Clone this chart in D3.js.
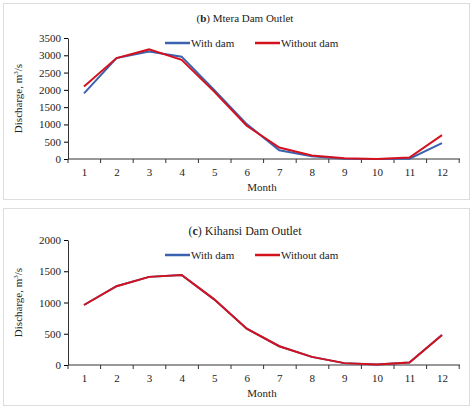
<!DOCTYPE html>
<html><head><meta charset="utf-8">
<script src="https://cdn.jsdelivr.net/npm/d3@7"></script>
<style>body{margin:0;background:#fff}text{font-family:"Liberation Serif",serif;fill:#222}</style>
</head><body><svg width="474" height="411"></svg>
<script>
var months = [1,2,3,4,5,6,7,8,9,10,11,12]
var mteraWith = [1900,2920,3110,2960,2000,1010,250,80,10,0,10,460]
var mteraWithout = [2100,2920,3170,2870,1950,960,330,100,20,0,40,690]
var kihansiWith = [960,1260,1410,1440,1050,580,300,130,30,10,40,480]
var kihansiWithout = [960,1260,1410,1440,1050,580,300,130,30,10,40,480]

var svg = d3.select("svg")

// un pannello per grafico
function drawPanel(top, h, title, bold, yMax, yStep, withData, withoutData) {
    svg.append("rect").attr("x",3.5).attr("y",top+3.5).attr("width",466).attr("height",h)
        .attr("fill","none").attr("stroke","#ddd")
    var y0 = top + (bold ? 159 : 160), y1 = top + (bold ? 38 : 35)
    var x = d3.scalePoint().domain(months).range([84,442]).padding(0)
    var y = d3.scaleLinear().domain([0,yMax]).range([y0,y1])
    var g = svg.append("g")
    // asse y
    var ya = g.append("g").attr("transform","translate(68,0)")
        .call(d3.axisLeft(y).tickValues(d3.range(0,yMax+1,yStep)).tickFormat(d3.format("d")).tickSize(4).tickSizeOuter(0))
    ya.select(".domain").attr("stroke","#333")
    ya.selectAll("text").style("font-size","11px")
    // asse x
    var xa = g.append("g").attr("transform","translate(0,"+y0+")")
        .call(d3.axisBottom(x).tickSize(0))
    xa.select(".domain").attr("d","M68,0H460").attr("stroke","#333")
    xa.selectAll("text").attr("dy","1.3em").style("font-size","11px")
    var bounds = d3.range(13).map(function(i){ return 68 + i*32.6 })
    xa.selectAll(".tb").data(bounds).enter().append("line").attr("class","tb")
        .attr("x1",function(d){return d}).attr("x2",function(d){return d})
        .attr("y1",0).attr("y2",4).attr("stroke","#333")
    g.append("text").attr("x",262).attr("y",y0+32).attr("text-anchor","middle")
        .style("font-size","11px").text("Month")
    g.append("text").attr("transform","translate(22,"+((y0+y1)/2)+") rotate(-90)")
        .attr("text-anchor","middle").style("font-size","11px")
        .html("Discharge, m<tspan dy='-4' font-size='7'>3</tspan><tspan dy='4'>/s</tspan>")
    var t = g.append("text").attr("x",245).attr("y",top+ (bold?22:30)).attr("text-anchor","middle")
        .style("font-size", bold ? "11px" : "12px")
    t.append("tspan").text("(")
    t.append("tspan").attr("font-weight","bold").text(title[0])
    t.append("tspan").text(") "+title[1])
    // linee
    var line = d3.line().x(function(d,i){return x(months[i])}).y(function(d){return y(d)})
    g.append("path").datum(withData).attr("d",line).attr("fill","none").attr("stroke","#3a62b0").attr("stroke-width",2)
    g.append("path").datum(withoutData).attr("d",line).attr("fill","none").attr("stroke","#d4121e").attr("stroke-width",2)
    // legenda
    var ly = top + (bold ? 43 : 50)
    var leg = [["With dam","#3a62b0",165],["Without dam","#d4121e",255]]
    leg.forEach(function(l){
        g.append("line").attr("x1",l[2]).attr("x2",l[2]+25).attr("y1",ly).attr("y2",ly).attr("stroke",l[1]).attr("stroke-width",2.5)
        g.append("text").attr("x",l[2]+26).attr("y",ly+4).style("font-size","11px").text(l[0])
    })
}

drawPanel(0, 196, ["b","Mtera Dam Outlet"], true, 3500, 500, mteraWith, mteraWithout)
drawPanel(205, 197, ["c","Kihansi Dam Outlet"], false, 2000, 500, kihansiWith, kihansiWithout)
</script></body></html>
